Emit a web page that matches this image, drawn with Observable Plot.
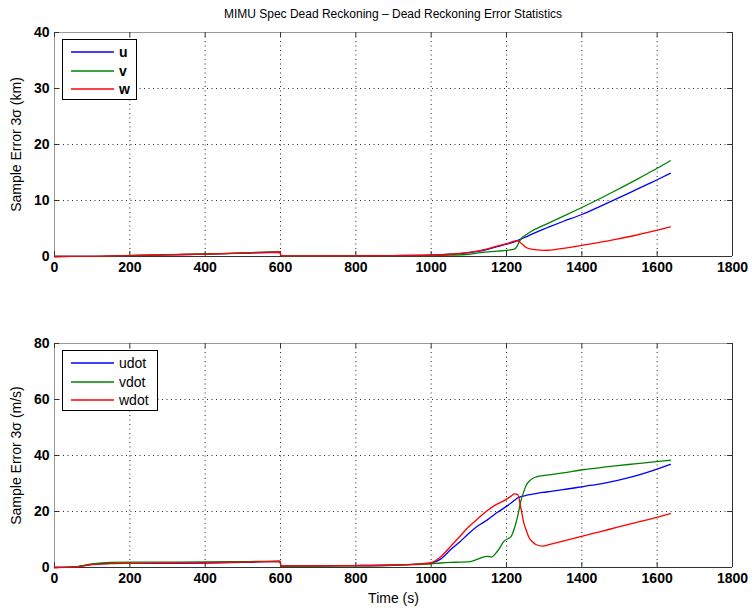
<!DOCTYPE html>
<html>
<head>
<meta charset="utf-8">
<script src="https://cdn.jsdelivr.net/npm/d3@7"></script>
<script src="https://cdn.jsdelivr.net/npm/@observablehq/plot@0.6"></script>
<style>
  html, body { margin: 0; padding: 0; background: #fff; }
  #root { position: relative; width: 752px; height: 611px; font-family: "Liberation Sans", Arial, sans-serif; }
  .title { position: absolute; left: 54px; width: 678px; top: 7px; text-align: center; font-size: 12px; color: #000; }
  .panel { position: absolute; left: 0; }
  .legend { position: absolute; background: #fff; border: 1px solid #000; box-sizing: border-box; padding: 3px 0 0 0; }
  .legend .row { display: flex; align-items: center; height: 18.5px; }
  .legend svg { margin-left: 8px; margin-right: 5px; display: block; }
  .legend .lab { font-size: 14px; color: #000; }
</style>
</head>
<body>
<div id="root">
  <div class="title">MIMU Spec Dead Reckoning – Dead Reckoning Error Statistics</div>
</div>
<script>
// ---- Data ----
const xTicks = [0, 200, 400, 600, 800, 1000, 1200, 1400, 1600, 1800];
const yTicksTop = [0, 10, 20, 30, 40];
const yTicksBot = [0, 20, 40, 60, 80];
const seriesTop = ["u", "v", "w"];
const seriesBot = ["udot", "vdot", "wdot"];
const seriesColors = ["#0000ff", "#008000", "#ff0000"];

// Position error 3σ (km)
const tTop = [0, 100, 200, 300, 400, 500, 599, 601, 700, 800, 900, 1000, 1050, 1100, 1132, 1177, 1200, 1221, 1228, 1235, 1242, 1250, 1266, 1297, 1310, 1350, 1400, 1450, 1489, 1540, 1578, 1600, 1635];
const uVals = [0, 0.02, 0.15, 0.3, 0.42, 0.6, 0.75, 0.05, 0.08, 0.12, 0.17, 0.25, 0.4, 0.7, 1.0, 1.8, 2.2, 2.6, 2.8, 3.0, 3.22, 3.45, 3.95, 4.85, 5.2, 6.25, 7.5, 9.0, 10.2, 11.8, 13.0, 13.7, 14.85];
const vVals = [0, 0.03, 0.18, 0.35, 0.45, 0.65, 0.85, 0.05, 0.07, 0.1, 0.13, 0.18, 0.25, 0.4, 0.7, 0.95, 1.1, 1.3, 1.8, 2.8, 3.4, 3.8, 4.5, 5.5, 5.9, 7.15, 8.75, 10.4, 11.75, 13.55, 14.95, 15.75, 17.1];
const wVals = [0, 0.03, 0.15, 0.3, 0.42, 0.6, 0.8, 0.1, 0.1, 0.12, 0.16, 0.22, 0.4, 0.75, 1.1, 1.9, 2.3, 2.75, 2.85, 2.6, 2.2, 1.7, 1.3, 1.1, 1.12, 1.45, 2.0, 2.55, 3.05, 3.75, 4.35, 4.7, 5.3];

// Velocity error 3σ (m/s)
const tBot = [0, 50, 100, 150, 200, 300, 400, 500, 599, 601, 700, 800, 900, 950, 1000, 1025, 1052, 1075, 1097, 1120, 1141, 1150, 1159, 1176, 1194, 1212, 1221, 1230, 1238, 1247, 1252, 1260, 1269, 1278, 1296, 1318, 1350, 1407, 1450, 1495, 1540, 1584, 1635];
const udotVals = [0, 0.2, 1.1, 1.5, 1.5, 1.5, 1.6, 1.8, 2.2, 0.5, 0.6, 0.7, 0.9, 1.1, 1.6, 3.0, 6.4, 9.0, 11.8, 14.5, 16.3, 17.1, 18.0, 19.7, 21.3, 23.0, 24.0, 24.9, 25.3, 25.6, 25.8, 26.0, 26.2, 26.4, 26.8, 27.2, 27.8, 29.0, 29.9, 31.1, 32.6, 34.4, 36.8];
const vdotVals = [0, 0.2, 1.3, 1.8, 1.9, 1.9, 2.0, 2.1, 2.3, 0.4, 0.5, 0.6, 0.8, 1.0, 1.3, 1.6, 1.8, 1.9, 2.0, 2.8, 3.8, 4.0, 3.7, 5.8, 9.5, 11.0, 14.0, 18.5, 23.7, 27.5, 29.3, 30.8, 31.8, 32.3, 32.8, 33.2, 33.8, 35.0, 35.7, 36.4, 37.0, 37.6, 38.3];
const wdotVals = [0, 0.1, 1.0, 1.4, 1.5, 1.6, 1.7, 1.9, 2.2, 0.6, 0.6, 0.7, 0.9, 1.1, 1.7, 3.8, 7.6, 10.9, 14.2, 17.0, 19.5, 20.4, 21.3, 22.7, 23.9, 25.5, 26.3, 26.0, 21.3, 15.4, 13.5, 10.6, 9.2, 8.2, 7.6, 8.35, 9.45, 11.4, 12.85, 14.4, 15.9, 17.4, 19.2];

// ---- Tables built from the arrays ----
function toRows(t, names, valueArrays) {
  return names.flatMap((name, i) => t.map((x, j) => ({t: x, value: valueArrays[i][j], series: name})));
}
const rowsTop = toRows(tTop, seriesTop, [uVals, vVals, wVals]);
const rowsBot = toRows(tBot, seriesBot, [udotVals, vdotVals, wdotVals]);

const W = 752, ML = 54, MR = 20;
const plotW = W - ML - MR;
const fmt = d3.format("d");

function panel({rows, names, yTicks, yLabel, xLabel, height, marginTop, marginBottom}) {
  const plotH = height - marginTop - marginBottom;
  const marks = [
    Plot.gridX(xTicks.slice(1, -1), {stroke: "#000", strokeOpacity: 0.85, strokeDasharray: "1,3.5", strokeWidth: 1}),
    Plot.gridY(yTicks.slice(1, -1), {stroke: "#000", strokeOpacity: 0.85, strokeDasharray: "1,3.5", strokeWidth: 1}),
    // frame edges
    Plot.ruleX([xTicks[0]], {stroke: "#999"}),
    Plot.ruleY([yTicks[yTicks.length - 1]], {stroke: "#999"}),
    Plot.ruleX([xTicks[xTicks.length - 1]], {stroke: "#333"}),
    Plot.ruleY([yTicks[0]], {stroke: "#333"}),
    // inward ticks
    Plot.tickX(xTicks, {stroke: "#333", insetTop: plotH - 5}),
    Plot.tickX(xTicks, {stroke: "#333", insetBottom: plotH - 5}),
    Plot.tickY(yTicks, {stroke: "#333", insetRight: plotW - 5}),
    Plot.tickY(yTicks, {stroke: "#333", insetLeft: plotW - 5}),
    Plot.line(rows, {x: "t", y: "value", z: "series", stroke: "series", curve: "monotone-x", strokeWidth: 1.3}),
    Plot.axisX(xTicks, {tickSize: 0, tickPadding: 6, tickFormat: fmt, fontWeight: "bold", fontSize: 14, label: null}),
    Plot.axisY(yTicks, {tickSize: 0, tickPadding: 5, tickFormat: fmt, fontWeight: "bold", fontSize: 14, label: null}),
    Plot.axisY([], {tickSize: 0, label: yLabel, labelAnchor: "center", labelOffset: 43, labelArrow: false, fontSize: 14})
  ];
  if (xLabel) marks.push(Plot.axisX([], {tickSize: 0, label: xLabel, labelAnchor: "center", labelOffset: 35, labelArrow: false, fontSize: 14}));
  return Plot.plot({
    width: W, height, marginLeft: ML, marginRight: MR, marginTop, marginBottom,
    x: {domain: [xTicks[0], xTicks[xTicks.length - 1]]},
    y: {domain: [yTicks[0], yTicks[yTicks.length - 1]]},
    color: {domain: names, range: seriesColors},
    style: {fontFamily: "'Liberation Sans', Arial, sans-serif", fontSize: "14px", color: "#000", background: "transparent", overflow: "visible"},
    marks
  });
}

const root = document.getElementById("root");

function addPanel(el, top) {
  const d = document.createElement("div");
  d.className = "panel";
  d.style.top = top + "px";
  d.appendChild(el);
  root.appendChild(d);
}

addPanel(panel({rows: rowsTop, names: seriesTop, yTicks: yTicksTop, yLabel: "Sample Error 3σ (km)", height: 300, marginTop: 32, marginBottom: 44}), 0);
addPanel(panel({rows: rowsBot, names: seriesBot, yTicks: yTicksBot, yLabel: "Sample Error 3σ (m/s)", xLabel: "Time (s)", height: 311, marginTop: 43, marginBottom: 44}), 300);

function addLegend(names, left, top, w, h, bold) {
  const lg = d3.select(root).append("div").attr("class", "legend")
    .style("left", left + "px").style("top", top + "px").style("width", w + "px").style("height", h + "px");
  names.forEach((n, i) => {
    const r = lg.append("div").attr("class", "row");
    const svg = r.append("svg").attr("width", 43).attr("height", 6);
    svg.append("line").attr("x1", 0).attr("x2", 43).attr("y1", 3).attr("y2", 3)
      .attr("stroke", seriesColors[i]).attr("stroke-width", 1.3);
    r.append("span").attr("class", "lab").style("font-weight", bold ? "bold" : "normal").text(n);
  });
}
addLegend(seriesTop, 62, 39, 75, 61, true);
addLegend(seriesBot, 62, 350, 96, 61, false);
</script>
</body>
</html>
